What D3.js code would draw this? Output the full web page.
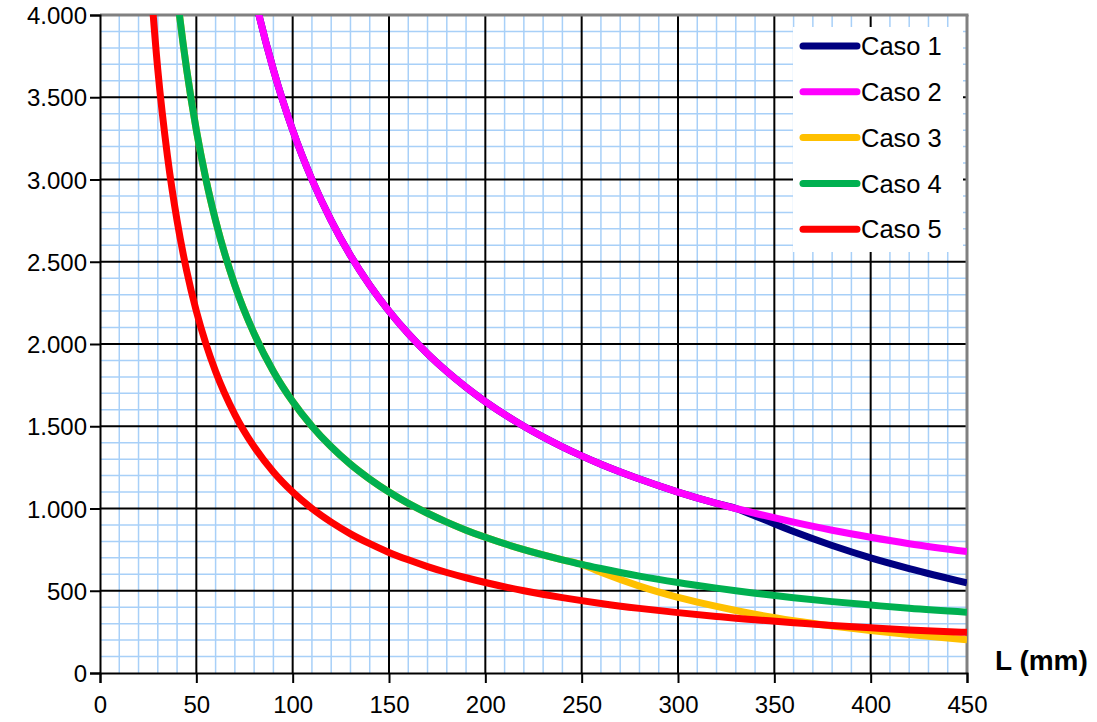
<!DOCTYPE html>
<meta charset="utf-8">
<script src="https://d3js.org/d3.v7.min.js"></script>
<style>
    body { margin: 0; background: #fff; }
    text { font-family: "Liberation Sans", Arial, sans-serif; fill: #000; }
</style>
<div id="chart"></div>
<script>
    // L (mm) sample positions
    const lengths = [25, 30, 35, 40, 45, 50, 55, 60, 70, 80, 90, 100, 110, 120, 130, 140, 150, 160, 170, 180, 190, 200,
        220, 240, 250, 260, 280, 300, 320, 330, 340, 360, 380, 400, 420, 450];

    const caso1 = [null, null, null, null, null, null, null, null, 4714, 4125, 3667, 3300, 3000, 2750, 2538, 2357, 2200, 2063, 1941, 1833, 1737, 1650,
        1500, 1375, 1320, 1269, 1179, 1100, 1031, 1000, 955, 860, 775, 700, 635, 548];
    const caso2 = [null, null, null, null, null, null, null, null, 4714, 4125, 3667, 3300, 3000, 2750, 2538, 2357, 2200, 2063, 1941, 1833, 1737, 1650,
        1500, 1375, 1320, 1269, 1179, 1100, 1031, 1000, 971, 917, 868, 825, 786, 738];
    const caso3 = [null, null, 4714, 4125, 3667, 3300, 3000, 2750, 2357, 2063, 1833, 1650, 1500, 1375, 1269, 1179, 1100, 1031, 971, 917, 868, 825,
        750, 688, 660, 612, 528, 460, 405, 380, 357, 318, 286, 258, 234, 202];
    const caso4 = [null, null, 4714, 4125, 3667, 3300, 3000, 2750, 2357, 2063, 1833, 1650, 1500, 1375, 1269, 1179, 1100, 1031, 971, 917, 868, 825,
        750, 688, 660, 635, 589, 550, 516, 500, 485, 458, 434, 413, 393, 370];
    const caso5 = [4400, 3667, 3143, 2750, 2444, 2200, 2000, 1833, 1571, 1375, 1222, 1100, 1000, 917, 846, 786, 733, 688, 647, 611, 579, 550,
        500, 458, 440, 423, 393, 367, 344, 333, 324, 306, 289, 275, 262, 247];

    const seriesNames = ["Caso 1", "Caso 2", "Caso 3", "Caso 4", "Caso 5"];
    const seriesValues = [caso1, caso2, caso3, caso4, caso5];
    const seriesColors = ["#000080", "#ff00ff", "#ffc000", "#00b050", "#ff0000"];

    const xTicks = [0, 50, 100, 150, 200, 250, 300, 350, 400, 450];
    const yTicks = [0, 500, 1000, 1500, 2000, 2500, 3000, 3500, 4000];

    const width = 1097, height = 722;
    const margin = {top: 15, right: 130, bottom: 49, left: 100};
    const plotW = width - margin.left - margin.right;
    const plotH = height - margin.top - margin.bottom;

    const svg = d3.select("#chart").append("svg")
        .attr("width", width)
        .attr("height", height);

    const x = d3.scaleLinear().domain([0, 450]).range([margin.left, margin.left + plotW]);
    const y = d3.scaleLinear().domain([0, 4000]).range([margin.top + plotH, margin.top]);

    svg.append("defs").append("clipPath").attr("id", "plot-clip")
        .append("rect")
        .attr("x", x(0)).attr("y", y(4000))
        .attr("width", x(450) - x(0)).attr("height", y(0) - y(4000));

    // minor grid
    const grid = svg.append("g");
    grid.selectAll(".minor-x")
        .data(d3.range(10, 450, 10).filter(d => d % 50 !== 0))
        .enter().append("line")
        .attr("x1", d => x(d)).attr("x2", d => x(d))
        .attr("y1", y(0)).attr("y2", y(4000))
        .attr("stroke", "#a8d0f8").attr("stroke-width", 1.5);
    grid.selectAll(".minor-y")
        .data(d3.range(100, 4000, 100).filter(d => d % 500 !== 0))
        .enter().append("line")
        .attr("x1", x(0)).attr("x2", x(450))
        .attr("y1", d => y(d)).attr("y2", d => y(d))
        .attr("stroke", "#a8d0f8").attr("stroke-width", 1.5);

    // major grid
    grid.selectAll(".major-x")
        .data(xTicks.filter(d => d > 0 && d < 450))
        .enter().append("line")
        .attr("x1", d => x(d)).attr("x2", d => x(d))
        .attr("y1", y(0)).attr("y2", y(4000))
        .attr("stroke", "#000").attr("stroke-width", 2);
    grid.selectAll(".major-y")
        .data(yTicks.filter(d => d > 0 && d < 4000))
        .enter().append("line")
        .attr("x1", x(0)).attr("x2", x(450))
        .attr("y1", d => y(d)).attr("y2", d => y(d))
        .attr("stroke", "#000").attr("stroke-width", 2);

    // frame: gray top and right
    svg.append("line")
        .attr("x1", x(0)).attr("x2", x(450) + 1.5)
        .attr("y1", y(4000)).attr("y2", y(4000))
        .attr("stroke", "#808080").attr("stroke-width", 3);
    svg.append("line")
        .attr("x1", x(450)).attr("x2", x(450))
        .attr("y1", y(4000)).attr("y2", y(0))
        .attr("stroke", "#808080").attr("stroke-width", 3);

    // axes
    const fmt = d => d === 0 ? "0" : d3.format(",")(d).replace(/,/g, ".");

    const yAxis = svg.append("g")
        .attr("transform", "translate(" + x(0) + ",0)")
        .call(d3.axisLeft(y).tickValues(yTicks).tickSize(10).tickPadding(3).tickFormat(fmt));
    const xAxis = svg.append("g")
        .attr("transform", "translate(0," + y(0) + ")")
        .call(d3.axisBottom(x).tickValues(xTicks).tickSize(10).tickPadding(11).tickFormat(d => d));

    [xAxis, yAxis].forEach(function (a) {
        a.attr("font-size", null).attr("font-family", null);
        a.select(".domain").attr("stroke", "#000").attr("stroke-width", 2);
        a.selectAll(".tick line").attr("stroke", "#000").attr("stroke-width", 2);
        a.selectAll(".tick text")
            .style("font-size", "24px")
            .style("font-family", "'Liberation Sans', Arial, sans-serif");
    });
    yAxis.selectAll(".tick text").attr("dy", "0.36em");
    xAxis.selectAll(".tick text").attr("dy", "0.8em");

    // curves
    const line = d3.line()
        .defined(d => d[1] !== null)
        .x(d => x(d[0]))
        .y(d => y(d[1]))
        .curve(d3.curveMonotoneX);

    const curves = svg.append("g").attr("clip-path", "url(#plot-clip)");
    seriesValues.forEach(function (vals, i) {
        curves.append("path")
            .datum(lengths.map((L, j) => [L, vals[j]]))
            .attr("d", line)
            .attr("fill", "none")
            .attr("stroke", seriesColors[i])
            .attr("stroke-width", 7)
            .attr("stroke-linejoin", "round");
    });

    // legend
    const legend = svg.append("g");
    legend.append("rect")
        .attr("x", 793).attr("y", 27)
        .attr("width", 170).attr("height", 225)
        .attr("fill", "#fff");

    const items = legend.selectAll(".legend-item")
        .data(seriesNames)
        .enter().append("g")
        .attr("transform", (d, i) => "translate(0," + (46 + i * 45.8) + ")");
    items.append("line")
        .attr("x1", 803).attr("x2", 857)
        .attr("y1", 0).attr("y2", 0)
        .attr("stroke", (d, i) => seriesColors[i])
        .attr("stroke-width", 7)
        .attr("stroke-linecap", "round");
    items.append("text")
        .style("font-size", "25.5px")
        .attr("x", 861)
        .attr("dy", "0.36em")
        .text(d => d);

    svg.append("text")
        .style("font-size", "28px")
        .style("font-weight", "bold")
        .attr("x", 995)
        .attr("y", 670)
        .text("L (mm)");
</script>
